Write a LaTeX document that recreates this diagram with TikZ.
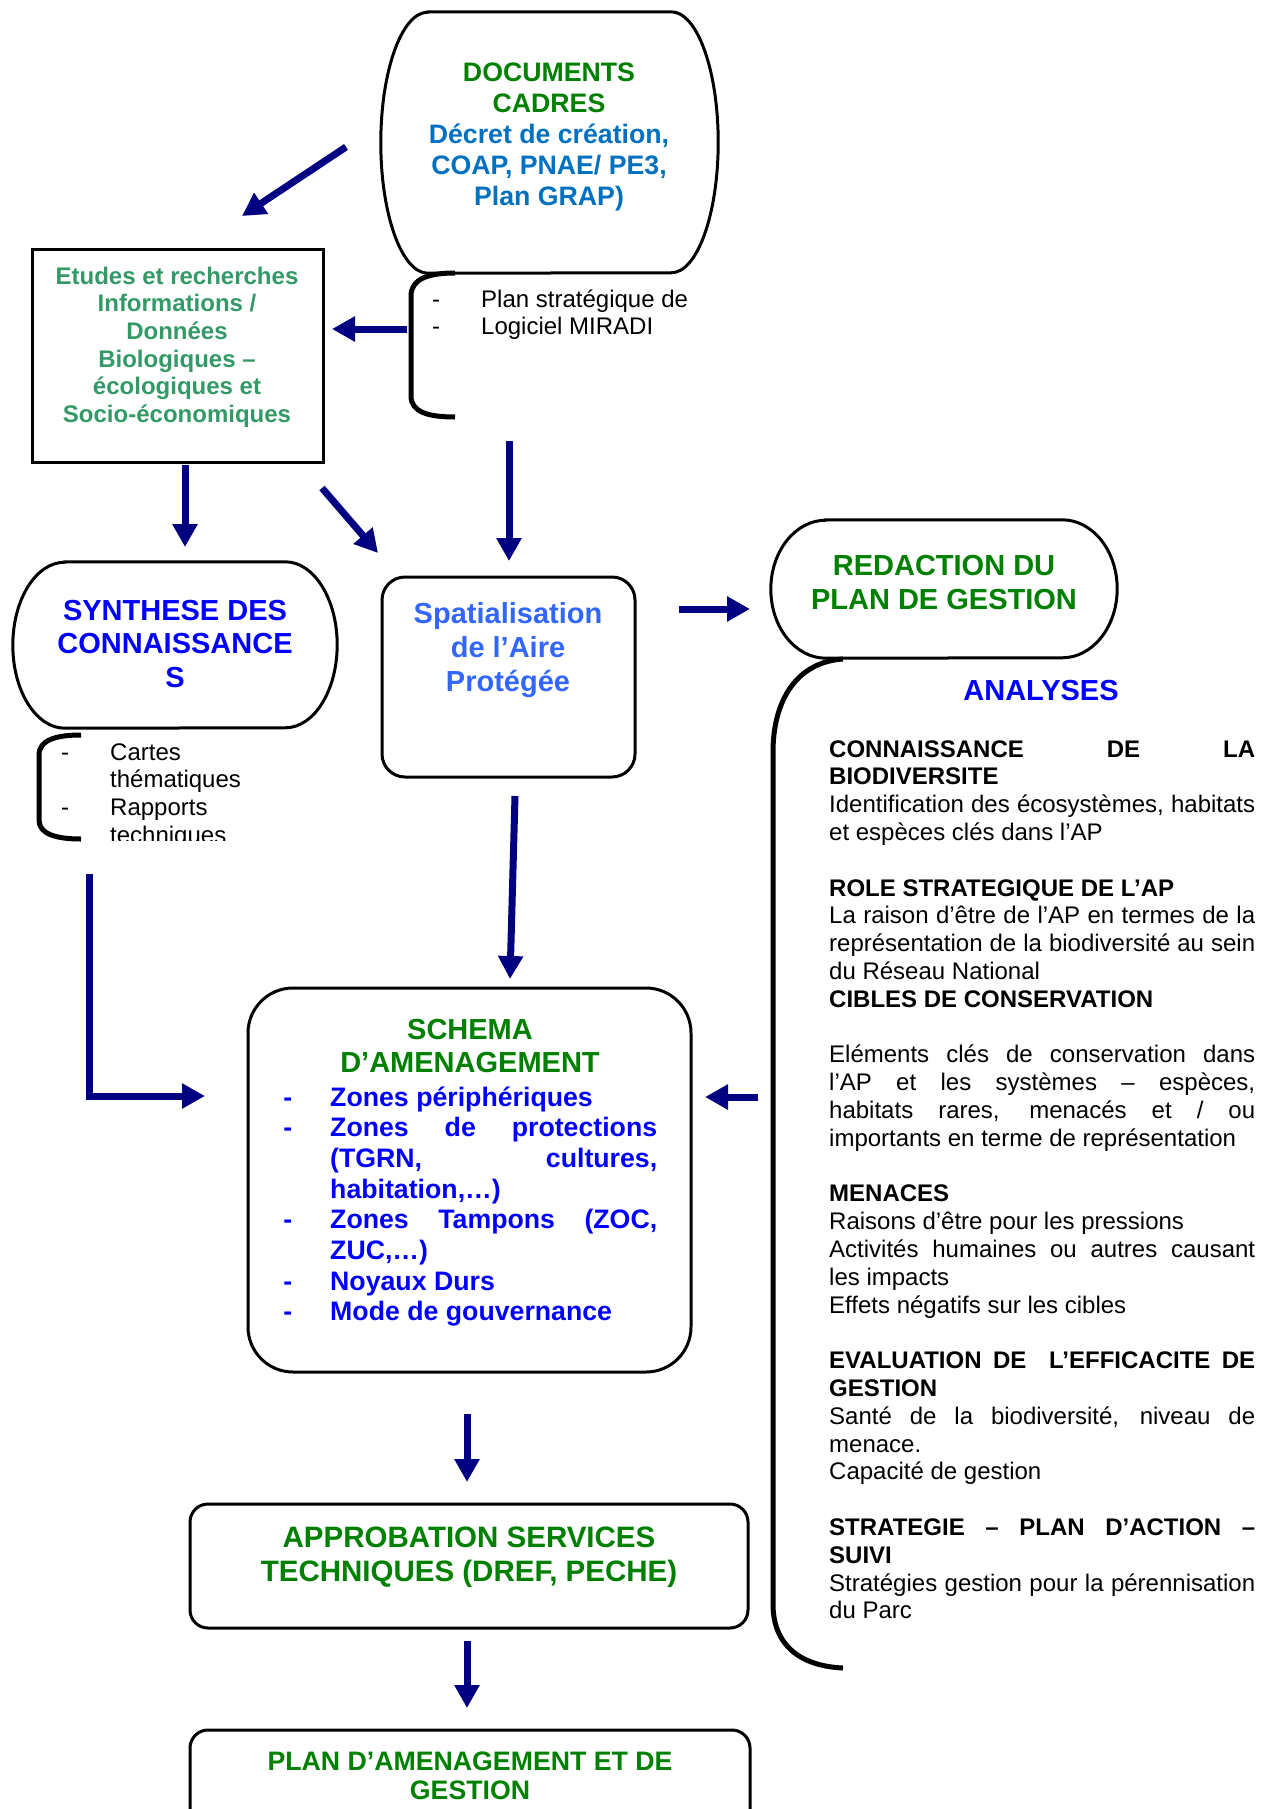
\documentclass[tikz,border=0pt]{standalone}
\usepackage{fontspec}
\setmainfont{Liberation Sans}
\usetikzlibrary{arrows.meta}
\definecolor{docgreen}{HTML}{008000}
\definecolor{docblue}{HTML}{0070C0}
\definecolor{seagrn}{HTML}{339966}
\definecolor{pureblue}{HTML}{0000FF}
\definecolor{spatblue}{HTML}{3366FF}
\definecolor{navyc}{HTML}{000080}
\newcommand\barrelpath[3]{%
  \draw[boxline] ([xshift=#2]#1.north west) -- ([xshift=-#2]#1.north east)
    arc[start angle=90,end angle=-90,x radius=#2,y radius=#3]
    -- ([xshift=#2]#1.south west)
    arc[start angle=270,end angle=90,x radius=#2,y radius=#3] -- cycle;}
\newcommand\J[1]{\makebox[\linewidth][s]{#1}}
\newcommand\dashA{\leavevmode\llap{-\hspace{41pt}}}
\newcommand\dashB{\leavevmode\llap{-\hspace{38pt}}}
\begin{document}
\begin{tikzpicture}[x=1pt,y=-1pt,
  arr/.style={draw=navyc,line width=7pt,-{Triangle[length=23pt,width=24pt]}},
  boxline/.style={draw=black,line width=3pt},
  brk/.style={draw=black,line width=5pt},
  txt/.style={inner sep=0pt,anchor=base},
  ltxt/.style={inner sep=0pt,anchor=base west},
  holder/.style={inner sep=0pt}]
\useasboundingbox (0,0) rectangle (1274,1809);
\clip (0,0) rectangle (1274,1809);
\fill[white] (0,0) rectangle (1274,1809);

% ---------- shapes ----------
\node[holder,minimum width=337pt,minimum height=261pt] (doc) at (549.5,142.5) {};
\barrelpath{doc}{47pt}{130.5pt}
\node[holder,minimum width=324pt,minimum height=166pt] (syn) at (175,645) {};
\barrelpath{syn}{52pt}{83pt}
\node[holder,minimum width=346pt,minimum height=138pt] (red) at (944,589) {};
\barrelpath{red}{55pt}{69pt}

\node[boxline,holder,minimum width=291pt,minimum height=213pt] (etu) at (177.5,355.5) {};
\node[boxline,holder,rounded corners=23pt,minimum width=253pt,minimum height=200pt] (spat) at (508.5,677) {};
\node[boxline,holder,rounded corners=45pt,minimum width=443pt,minimum height=384pt] (sch) at (469.5,1180) {};
\node[boxline,holder,rounded corners=18pt,minimum width=558pt,minimum height=124pt] (app) at (469,1566) {};
\node[boxline,holder,rounded corners=18pt,minimum width=560pt,minimum height=130pt] (plan) at (470,1795) {};

% brackets
\draw[brk] (455,273) .. controls (428,273) and (411,279) .. (411,296) -- (411,396)
  .. controls (411,412) and (428,417) .. (455,417);
\draw[brk] (81,735) .. controls (56,735) and (39,740) .. (39,755) -- (39,820)
  .. controls (39,834) and (56,839) .. (81,839);
\draw[brk] (843,659) .. controls (797,662) and (773,700) .. (773,752) -- (773,1604)
  .. controls (773,1645) and (800,1666) .. (843,1668);

% ---------- texts ----------
\node[txt] (doct) at (549,82) {\parbox[t]{330pt}{\centering\fontsize{26.7}{30.8}\selectfont\bfseries
  \leavevmode\color{docgreen}DOCUMENTS\\CADRES\\\color{docblue}Décret de création,\\COAP, PNAE/ PE3,\\Plan GRAP)}};

\node[ltxt] (plst) at (481,307) {\parbox[t]{300pt}{\fontsize{24}{27.8}\selectfont
  \dashA Plan stratégique de\\\dashA Logiciel MIRADI}};

\node[txt] (etut) at (177,284) {\parbox[t]{290pt}{\centering\fontsize{24}{27.7}\selectfont\bfseries
  \leavevmode\color{seagrn}Etudes et recherches\\Informations /\\Données\\Biologiques –\\écologiques et\\Socio-économiques}};

\node[txt] (synt) at (175,620) {\parbox[t]{320pt}{\centering\fontsize{29}{33.5}\selectfont\bfseries
  \leavevmode\color{pureblue}SYNTHESE DES\\CONNAISSANCE\\S}};

\begin{scope}
\clip (0,700) rectangle (400,840);
\node[ltxt] (cart) at (110,760) {\parbox[t]{250pt}{\fontsize{24}{27.7}\selectfont
  \dashA Cartes\\thématiques\\\dashA Rapports\\techniques}};
\end{scope}

\node[txt] (spatt) at (508,623) {\parbox[t]{250pt}{\centering\fontsize{29}{34}\selectfont\bfseries
  \leavevmode\color{spatblue}Spatialisation\\de l’Aire\\Protégée}};

\node[txt] (redt) at (944,575) {\parbox[t]{340pt}{\centering\fontsize{29}{34}\selectfont\bfseries
  \leavevmode\color{docgreen}REDACTION DU\\PLAN DE GESTION}};

\node[txt] (anat) at (1041,700) {\fontsize{29}{34}\selectfont\bfseries\color{pureblue}ANALYSES};

\node[ltxt] (anab) at (829,757) {\parbox[t]{426pt}{\fontsize{24}{27.8}\selectfont
\J{\textbf{CONNAISSANCE DE LA}}\\
\textbf{BIODIVERSITE}\\
\J{Identification des écosystèmes, habitats}\\
et espèces clés dans l’AP\\
\mbox{}\\
\textbf{ROLE STRATEGIQUE DE L’AP}\\
\J{La raison d’être de l’AP en termes de la}\\
\J{représentation de la biodiversité au sein}\\
du Réseau National\\
\textbf{CIBLES DE CONSERVATION}\\
\mbox{}\\
\J{Eléments clés de conservation dans}\\
\J{l’AP et les systèmes – espèces,}\\
\J{habitats rares, menacés et / ou}\\
importants en terme de représentation\\
\mbox{}\\
\textbf{MENACES}\\
Raisons d’être pour les pressions\\
\J{Activités humaines ou autres causant}\\
les impacts\\
Effets négatifs sur les cibles\\
\mbox{}\\
\J{\textbf{EVALUATION DE\ \ L’EFFICACITE DE}}\\
\textbf{GESTION}\\
\J{Santé de la biodiversité, niveau de}\\
menace.\\
Capacité de gestion\\
\mbox{}\\
\J{\textbf{STRATEGIE – PLAN D’ACTION –}}\\
\textbf{SUIVI}\\
\J{Stratégies gestion pour la pérennisation}\\
du Parc}};

\node[txt] (scht) at (470,1039) {\parbox[t]{420pt}{\centering\fontsize{29}{33.5}\selectfont\bfseries
  \leavevmode\color{docgreen}SCHEMA\\D’AMENAGEMENT}};

\node[ltxt] (schl) at (330,1106) {\parbox[t]{327pt}{\fontsize{26.7}{30.7}\selectfont\bfseries
\leavevmode\color{pureblue}%
\dashB Zones périphériques\\
\dashB\J{Zones de protections}\\
\J{(TGRN, cultures,}\\
habitation,…)\\
\dashB\J{Zones Tampons (ZOC,}\\
ZUC,…)\\
\dashB Noyaux Durs\\
\dashB Mode de gouvernance}};

\node[txt] (appt) at (469,1547) {\parbox[t]{550pt}{\centering\fontsize{29.5}{34}\selectfont\bfseries
  \leavevmode\color{docgreen}APPROBATION SERVICES\\TECHNIQUES (DREF, PECHE)}};

\node[txt] (plant) at (470,1770) {\parbox[t]{550pt}{\centering\fontsize{26.7}{29}\selectfont\bfseries
  \leavevmode\color{docgreen}PLAN D’AMENAGEMENT ET DE\\GESTION}};

% ---------- connectors ----------
\coordinate (a1s) at (346,147);  \coordinate (a1e) at (242,216);
\coordinate (a2s) at (407,329);  \coordinate (a2e) at (332,329);
\coordinate (a3s) at (185,465);  \coordinate (a3e) at (185,547);
\coordinate (a4s) at (322,488);  \coordinate (a4e) at (378,553);
\coordinate (a5s) at (509,441);  \coordinate (a5e) at (509,561);
\coordinate (a6s) at (679,609);  \coordinate (a6e) at (750,609);
\coordinate (a7s) at (515,796);  \coordinate (a7e) at (510,979);
\coordinate (a8s) at (89,874);   \coordinate (a8e) at (205,1096);
\coordinate (a9s) at (758,1097); \coordinate (a9e) at (705,1097);
\coordinate (a10s) at (467,1414); \coordinate (a10e) at (467,1482);
\coordinate (a11s) at (467,1641); \coordinate (a11e) at (467,1708);
\draw[arr] (a1s) -- (a1e);
\draw[arr] (a2s) -- (a2e);
\draw[arr] (a3s) -- (a3e);
\draw[arr] (a4s) -- (a4e);
\draw[arr] (a5s) -- (a5e);
\draw[arr] (a6s) -- (a6e);
\draw[arr] (a7s) -- (a7e);
\draw[arr] (a8s) |- (a8e);
\draw[arr] (a9s) -- (a9e);
\draw[arr] (a10s) -- (a10e);
\draw[arr] (a11s) -- (a11e);
\end{tikzpicture}
\end{document}
